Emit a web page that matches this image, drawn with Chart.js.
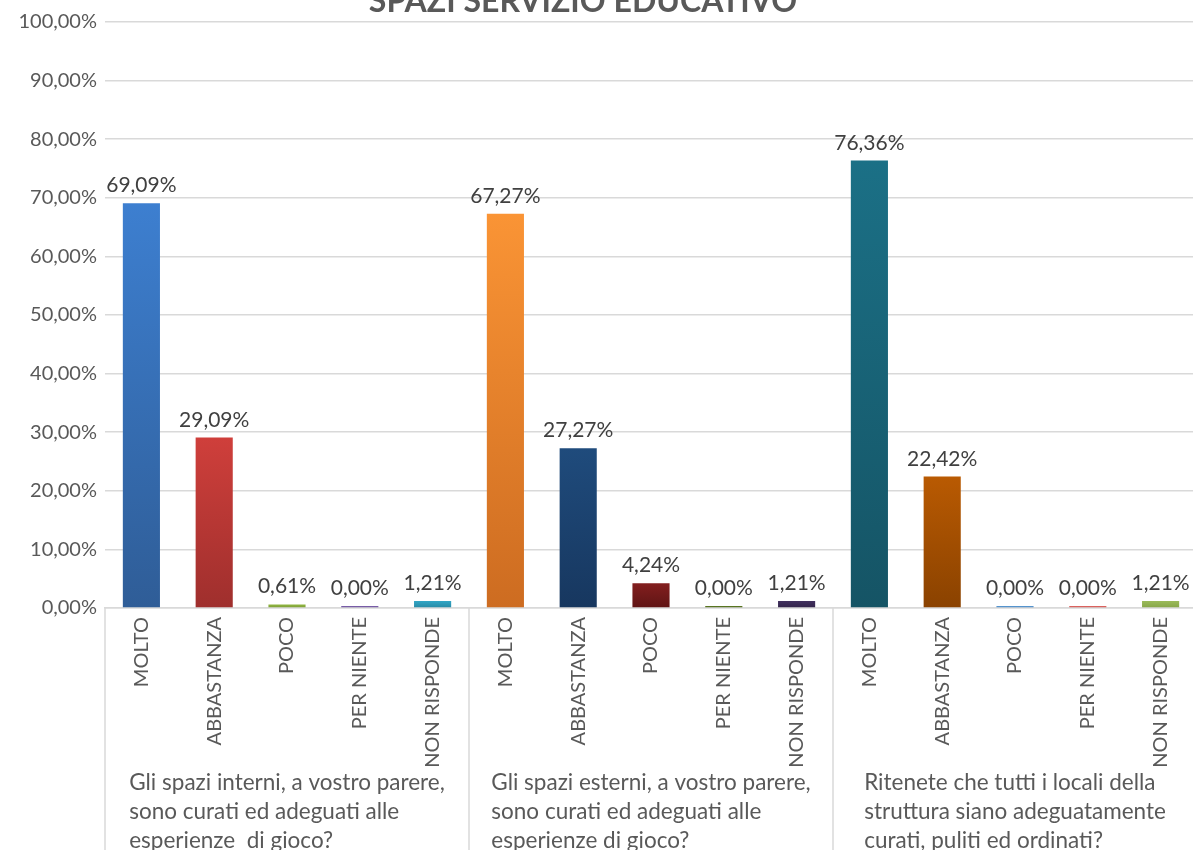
<!DOCTYPE html>
<html>
<head>
<meta charset="utf-8">
<script src="https://cdn.jsdelivr.net/npm/chart.js@4"></script>
<style>
  html, body { margin: 0; padding: 0; overflow: hidden; background: #fff; }
  #wrap { position: absolute; left: 0; top: 0; width: 1200px; height: 850px; }
</style>
</head>
<body>
<div id="wrap"><canvas id="grafico"></canvas></div>
<script>
// dati
const titolo = 'SPAZI SERVIZIO EDUCATIVO';
const risposte = ['MOLTO', 'ABBASTANZA', 'POCO', 'PER NIENTE', 'NON RISPONDE'];
const domande = [
  ['Gli spazi interni, a vostro parere,', 'sono curati ed adeguati alle', 'esperienze  di gioco?'],
  ['Gli spazi esterni, a vostro parere,', 'sono curati ed adeguati alle', 'esperienze di gioco?'],
  ['Ritenete che tutti i locali della', 'struttura siano adeguatamente', 'curati, puliti ed ordinati?']
];
const spaziInterni = [69.09, 29.09, 0.61, 0.00, 1.21];
const spaziEsterni = [67.27, 27.27, 4.24, 0.00, 1.21];
const localiStruttura = [76.36, 22.42, 0.00, 0.00, 1.21];
const yMax = 100;
const yPasso = 10;

// colori delle barre (alto / basso del gradiente)
const coloriAlto = [
  '#3d7fd0', '#cf3f3b', '#92b843', '#8064b0', '#32a6c6',
  '#fa9435', '#1f4b7c', '#831f1f', '#5f7d24', '#41305f',
  '#1b7086', '#b95a02', '#5b9bd5', '#e46a66', '#9bbb59'
];
const coloriBasso = [
  '#2f5d97', '#9f2f2d', '#7a9a33', '#6a4f96', '#2789a4',
  '#cd6c21', '#17375f', '#5f1414', '#4d661c', '#32244a',
  '#155465', '#8a4200', '#4a86c0', '#c85450', '#86a548'
];

const etichette = domande.flatMap(() => risposte);
const valori = [...spaziInterni, ...spaziEsterni, ...localiStruttura];

const fmt = v => v.toFixed(2).replace('.', ',') + '%';
const FONT = 'Lato, "Open Sans", sans-serif';

let gradiente = (ctx) => {
  let chart = ctx.chart;
  let i = ctx.dataIndex;
  if (!chart.chartArea || !chart.scales.y) return coloriAlto[i];
  let y = chart.scales.y;
  let top = y.getPixelForValue(Math.max(valori[i], 0.4));
  let bottom = y.getPixelForValue(0);
  if (bottom - top < 1) top = bottom - 1;
  let g = chart.ctx.createLinearGradient(0, top, 0, bottom);
  g.addColorStop(0, coloriAlto[i]);
  g.addColorStop(1, coloriBasso[i]);
  return g;
};

// etichette dei valori, titolo, domande e separatori
const decorazioni = {
  id: 'decorazioni',
  afterDatasetsDraw(chart) {
    let { ctx, chartArea, scales: { x } } = chart;
    let meta = chart.getDatasetMeta(0);
    ctx.save();

    ctx.font = '21px ' + FONT;
    ctx.fillStyle = '#404040';
    ctx.textAlign = 'center';
    ctx.textBaseline = 'alphabetic';
    meta.data.forEach((bar, i) => {
      ctx.fillText(fmt(valori[i]), bar.x, bar.y - 11);
    });

    // titolo (tagliato in alto come nell'originale)
    ctx.font = 'bold 32px ' + FONT;
    ctx.fillStyle = '#595959';
    ctx.fillText(titolo, 583, 12);

    // separatori dei gruppi
    let n = risposte.length;
    let bordi = [chartArea.left];
    for (let g = 1; g < domande.length; g++) {
      let a = x.getPixelForValue(g * n - 1), b = x.getPixelForValue(g * n);
      bordi.push((a + b) / 2);
    }
    bordi.push(chartArea.right);
    ctx.strokeStyle = '#d9d9d9';
    ctx.lineWidth = 1.5;
    bordi.forEach(bx => {
      ctx.beginPath();
      ctx.moveTo(bx, chartArea.bottom);
      ctx.lineTo(bx, chart.height);
      ctx.stroke();
    });

    // testo delle domande
    ctx.font = '22.5px ' + FONT;
    ctx.fillStyle = '#595959';
    ctx.textAlign = 'left';
    domande.forEach((righe, g) => {
      let centro = (bordi[g] + bordi[g + 1]) / 2;
      let w = Math.max(...righe.map(r => ctx.measureText(r).width));
      let sx = centro - w / 2;
      righe.forEach((r, k) => ctx.fillText(r, sx, chartArea.bottom + 182 + k * 29));
    });

    ctx.restore();
  }
};

new Chart(document.getElementById('grafico'), {
  type: 'bar',
  data: {
    labels: etichette,
    datasets: [{
      data: valori,
      backgroundColor: gradiente,
      borderWidth: 0,
      minBarLength: 2,
      categoryPercentage: 1,
      barPercentage: 0.51
    }]
  },
  options: {
    responsive: true,
    maintainAspectRatio: false,
    animation: false,
    layout: { padding: { top: 22, right: 3, left: 0, bottom: 0 } },
    plugins: {
      legend: { display: false },
      title: { display: false },
      tooltip: { enabled: false }
    },
    scales: {
      x: {
        grid: { display: false, drawTicks: false },
        border: { display: true, color: '#d9d9d9', width: 1.5 },
        ticks: {
          color: '#595959',
          font: { family: FONT, size: 20 },
          minRotation: 90,
          maxRotation: 90,
          autoSkip: false,
          padding: 9
        },
        afterFit: s => { s.height = 242; }
      },
      y: {
        min: 0,
        max: yMax,
        grid: { color: '#d9d9d9', lineWidth: 1.5, drawTicks: false },
        border: { display: false },
        ticks: {
          stepSize: yPasso,
          color: '#595959',
          font: { family: FONT, size: 20 },
          padding: 8,
          callback: v => fmt(v)
        },
        afterFit: s => { s.width = 105; }
      }
    }
  },
  plugins: [decorazioni]
});
</script>
</body>
</html>
